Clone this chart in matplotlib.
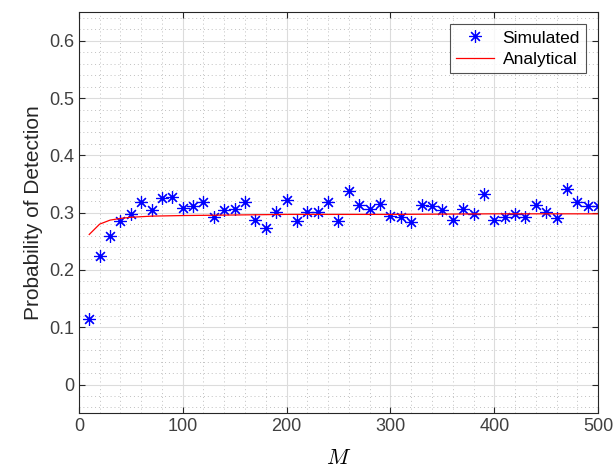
import numpy as np
import matplotlib as mpl
mpl.use('Agg')
import matplotlib.pyplot as plt
from matplotlib.ticker import MultipleLocator

plt.rcParams['font.family'] = ['Liberation Sans', 'DejaVu Sans']
plt.rcParams['mathtext.fontset'] = 'cm'

M_sim = list(range(10, 501, 10))
pd_sim = [0.115, 0.225, 0.260, 0.286, 0.297, 0.319, 0.305, 0.325, 0.328, 0.309,
          0.311, 0.318, 0.293, 0.305, 0.307, 0.318, 0.288, 0.274, 0.302, 0.323,
          0.286, 0.302, 0.302, 0.319, 0.286, 0.337, 0.314, 0.307, 0.316, 0.295,
          0.293, 0.284, 0.314, 0.312, 0.305, 0.288, 0.307, 0.298, 0.333, 0.288,
          0.293, 0.297, 0.293, 0.314, 0.302, 0.290, 0.342, 0.318, 0.312, 0.311]

M_ana = [10, 20, 30, 40, 50, 70, 100, 150, 200, 300, 400, 500]
pd_ana = [0.262, 0.280, 0.287, 0.290, 0.292, 0.294, 0.295, 0.296, 0.297, 0.297, 0.298, 0.298]

fig = plt.figure(figsize=(6.16, 4.69), dpi=100)
ax = fig.add_axes([0.128, 0.119, 0.843, 0.855])

ax.plot(M_sim, pd_sim, linestyle='none', marker=(8, 2, 0), color='#0000ff',
        markersize=9, markeredgewidth=0.85, label='Simulated')
ax.plot(M_ana, pd_ana, '-', color='#ff0000', linewidth=0.9, label='Analytical')

ax.set_xlim(0, 500)
ax.set_ylim(-0.05, 0.65)
ax.xaxis.set_major_locator(MultipleLocator(100))
ax.xaxis.set_minor_locator(MultipleLocator(20))
ax.yaxis.set_major_locator(MultipleLocator(0.1))
ax.yaxis.set_minor_locator(MultipleLocator(0.02))
ax.set_yticks(np.arange(0, 0.61, 0.1))
ax.set_yticklabels(['0', '0.1', '0.2', '0.3', '0.4', '0.5', '0.6'])

ax.grid(which='major', color='#dcdcdc', linewidth=0.8)
ax.grid(which='minor', color='#c0c0c0', linestyle=(0, (1, 3)), linewidth=0.7)
ax.set_axisbelow(True)
ax.tick_params(which='both', direction='in', labelsize=13, colors='#262626',
               labelcolor='#404040')
ax.tick_params(which='minor', length=0)
ax.tick_params(which='major', length=4, top=True, right=True)
for s in ax.spines.values():
    s.set_color('#262626')
    s.set_linewidth(0.8)

ax.set_xlabel('$M$', fontsize=16, labelpad=9)
ax.set_ylabel('Probability of Detection', fontsize=15, color='#262626')

leg = ax.legend(loc='upper right', fontsize=12.5, frameon=True, fancybox=False,
                edgecolor='#262626', borderpad=0.35, handlelength=2.2,
                handletextpad=0.5, labelspacing=0.35, borderaxespad=0.7)
leg.get_frame().set_linewidth(0.8)

plt.savefig('out.png', dpi=100)
